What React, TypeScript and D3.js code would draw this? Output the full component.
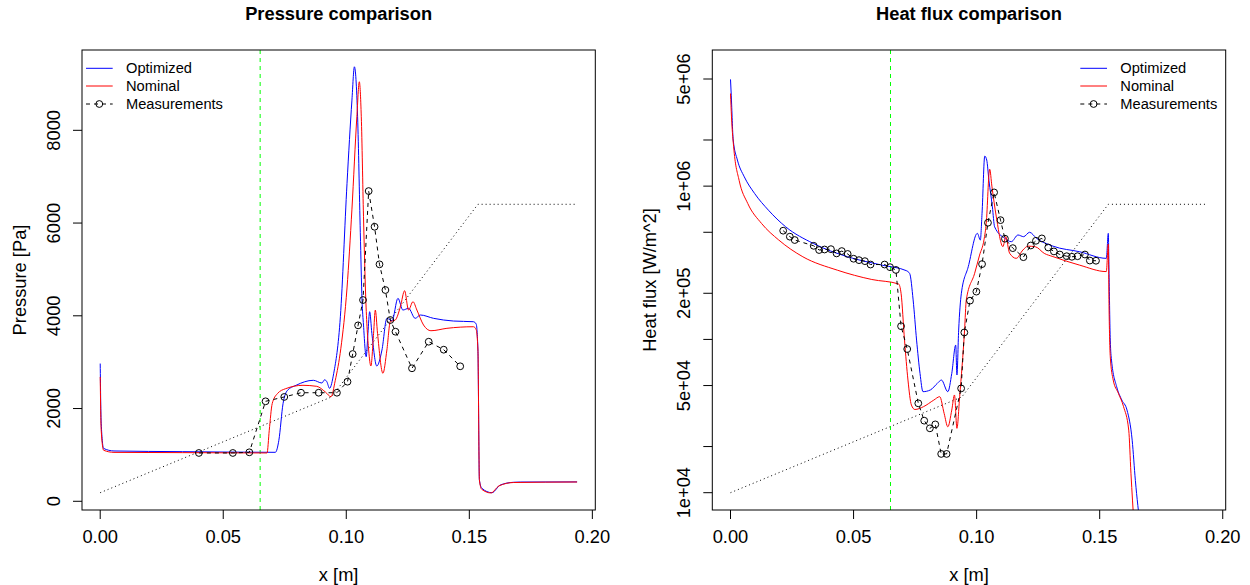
import React from "react"
import * as d3 from "d3"

const W = 1250
const H = 585
const FONT = "'Liberation Sans', Arial, Helvetica, sans-serif"
const BASE = 18.3
const LEGEND_FONT = 14.67

// plot boxes (R base graphics, two panels side by side)
const BOX_TOP = 50
const BOX_BOTTOM = 510
const LEFT_BOX = { x0: 82, x1: 595.3 }
const RIGHT_BOX = { x0: 712.3, x1: 1225.7 }

const X_DOMAIN: [number, number] = [-0.0074, 0.2012]
const X_TICKS = [0, 0.05, 0.1, 0.15, 0.2]
const SHOCK_X = 0.065

const P_DOMAIN: [number, number] = [-188, 9732]
const P_TICKS = [0, 2000, 4000, 6000, 8000]
const P_TICK_LABELS = ["0", "2000", "4000", "6000", "8000"]

const Q_DOMAIN: [number, number] = [7.71e3, 7.73e6]
const Q_TICKS = [1e4, 2e4, 5e4, 1e5, 2e5, 5e5, 1e6, 2e6, 5e6]
const Q_TICK_LABELS = ["1e+04", "", "5e+04", "", "2e+05", "", "1e+06", "", "5e+06"]

const LEGEND_LABELS = ["Optimized", "Nominal", "Measurements"]

// body outline (normalised radius), drawn dotted on both panels
const geomX = [0, 0.094, 0.1535, 0.1938]
const geomR = [0, 0.332, 1, 1]
const GEOM_DOMAIN: [number, number] = [-0.06, 1.535]

type Pt = [number, number]

// pressure [Pa] along x [m]
const pressureOptimized: Pt[] = [
  [0, 2970], [0.0004, 1680], [0.0014, 1140], [0.0056, 1085], [0.0335, 1070],
  [0.0712, 1056], [0.0726, 1315], [0.0743, 2106], [0.0761, 2393], [0.0796, 2501],
  [0.0866, 2609], [0.0901, 2551], [0.0912, 2620], [0.0921, 2579], [0.0932, 2436],
  [0.0949, 2760], [0.0976, 3980], [0.1003, 6856], [0.1023, 8652], [0.1033, 9370],
  [0.1046, 8292], [0.1057, 5800], [0.1064, 4340], [0.107, 3800], [0.1081, 3117],
  [0.1088, 3622], [0.1095, 4088], [0.1104, 3622], [0.1124, 2917], [0.1145, 3262],
  [0.1165, 3945], [0.1186, 3894], [0.121, 4377], [0.123, 4124], [0.1253, 4161],
  [0.128, 3945], [0.1301, 4017], [0.1355, 3945], [0.1436, 3887], [0.1517, 3872],
  [0.1528, 3822], [0.1535, 3262], [0.1541, 459], [0.1551, 280], [0.1592, 185],
  [0.1626, 351], [0.168, 410], [0.1707, 415], [0.1938, 418],
]

const pressureNominal: Pt[] = [
  [0, 2681], [0.0004, 1531], [0.0014, 1100], [0.0056, 1055], [0.0335, 1049],
  [0.0678, 1042], [0.0687, 1531], [0.0699, 2106], [0.072, 2321], [0.0754, 2429],
  [0.0824, 2501], [0.088, 2479], [0.0915, 2357], [0.0938, 2255], [0.0955, 2600],
  [0.0978, 3300], [0.1003, 4600], [0.1023, 6300], [0.1043, 8292], [0.1053, 9047],
  [0.1061, 8292], [0.107, 6136], [0.1079, 4400], [0.1091, 3262], [0.11, 2917],
  [0.1111, 3622], [0.1118, 4124], [0.1127, 3622], [0.1149, 2760], [0.1165, 3262],
  [0.1179, 3872], [0.1199, 3909], [0.122, 4196], [0.1237, 4541], [0.1253, 4124],
  [0.1271, 4304], [0.1287, 4124], [0.1314, 3801], [0.1344, 3678], [0.1409, 3730],
  [0.1517, 3764], [0.1528, 3700], [0.1535, 3262], [0.1541, 459], [0.155, 260],
  [0.1588, 180], [0.162, 330], [0.168, 405], [0.1938, 416],
]

const pressureMeasured: Pt[] = [
  [0.0401, 1042], [0.0539, 1042], [0.0606, 1056], [0.0672, 2156], [0.0748, 2250],
  [0.0816, 2341], [0.0888, 2341], [0.0962, 2341], [0.1005, 2579], [0.1026, 3176],
  [0.1048, 3794], [0.1068, 4340], [0.1091, 6690], [0.1115, 5920], [0.1135, 5110],
  [0.1159, 4556], [0.1179, 3909], [0.12, 3657], [0.1267, 2868], [0.1335, 3441],
  [0.1396, 3269], [0.1463, 2911],
]

// heat flux [W/m^2] along x [m]
const heatOptimized: Pt[] = [
  [0, 4.97e6], [0.0003, 3.92e6], [0.0011, 2.0e6], [0.0028, 1.48e6], [0.0056, 1.15e6],
  [0.0098, 8.95e5], [0.0154, 6.97e5], [0.0224, 5.43e5], [0.0336, 4.23e5], [0.0476, 3.46e5],
  [0.0616, 3.05e5], [0.0714, 2.81e5], [0.0728, 2.69e5], [0.0742, 1.81e5], [0.0756, 9.9e4],
  [0.077, 6.0e4], [0.0782, 4.56e4], [0.0812, 4.68e4], [0.084, 5.16e4], [0.0857, 5.43e4],
  [0.0883, 4.56e4], [0.0899, 6.0e4], [0.0915, 9.18e4], [0.092, 5.86e4], [0.0927, 1.15e5],
  [0.0938, 2.0e5], [0.0966, 2.98e5], [0.1003, 4.92e5], [0.1015, 4.45e5], [0.1022, 6.64e5],
  [0.1033, 1.57e6], [0.1041, 1.48e6], [0.105, 1.09e6], [0.1064, 7.33e5], [0.1073, 5.43e5],
  [0.1114, 4.57e5], [0.1141, 4.34e5], [0.1168, 4.8e5], [0.1191, 4.68e5], [0.1215, 5.0e5],
  [0.1243, 4.57e5], [0.131, 4.06e5], [0.1419, 3.73e5], [0.1527, 3.38e5], [0.1535, 4.92e5],
  [0.1538, 2.69e5], [0.1543, 9.9e4], [0.1548, 7.33e4], [0.1569, 4.91e4], [0.159, 4.02e4],
  [0.1611, 3.46e4], [0.1632, 2.2e4], [0.1645, 1.2e4], [0.1665, 6.0e3],
]

const heatNominal: Pt[] = [
  [0, 4.02e6], [0.0004, 2.83e6], [0.0014, 1.72e6], [0.0035, 1.09e6], [0.007, 7.71e5],
  [0.0126, 5.71e5], [0.0196, 4.45e5], [0.0294, 3.46e5], [0.0434, 2.83e5], [0.0574, 2.46e5],
  [0.0683, 2.3e5], [0.0693, 2.0e5], [0.0707, 9.9e4], [0.0721, 5.43e4], [0.0735, 3.73e4],
  [0.0749, 3.49e4], [0.0784, 3.64e4], [0.0826, 4.02e4], [0.085, 4.23e4], [0.0868, 3.29e4],
  [0.0883, 2.69e4], [0.0899, 3.46e4], [0.091, 4.34e4], [0.092, 2.63e4], [0.0931, 4.23e4],
  [0.0951, 1.15e5], [0.0958, 1.81e5], [0.0992, 2.7e5], [0.1012, 3.55e5], [0.103, 4.47e5],
  [0.1039, 5.71e5], [0.1053, 1.29e6], [0.1062, 1.0e6], [0.108, 6.3e5], [0.1107, 4.03e5],
  [0.1118, 4.68e5], [0.1134, 3.65e5], [0.1161, 3.38e5], [0.1188, 3.83e5], [0.1209, 4.06e5],
  [0.1239, 4.02e5], [0.1275, 3.64e5], [0.131, 3.47e5], [0.1419, 3.05e5], [0.1527, 2.77e5],
  [0.1535, 4.19e5], [0.1538, 1.63e5], [0.1543, 7.71e4], [0.1555, 5.43e4], [0.1576, 4.45e4],
  [0.1597, 3.64e4], [0.1618, 2.56e4], [0.1627, 1.34e4], [0.164, 6.0e3],
]

const heatMeasured: Pt[] = [
  [0.0214, 5.12e5], [0.0241, 4.68e5], [0.0261, 4.45e5], [0.0338, 4.08e5], [0.036, 3.83e5],
  [0.0382, 3.86e5], [0.0408, 3.88e5], [0.0431, 3.64e5], [0.0452, 3.77e5], [0.0476, 3.61e5],
  [0.05, 3.36e5], [0.0522, 3.29e5], [0.0546, 3.24e5], [0.0569, 3.08e5], [0.0626, 3.08e5],
  [0.0648, 2.96e5], [0.0672, 2.84e5], [0.0693, 1.22e5], [0.0718, 8.65e4], [0.0763, 3.83e4],
  [0.0787, 2.95e4], [0.081, 2.63e4], [0.0832, 2.79e4], [0.0856, 1.79e4], [0.0878, 1.79e4],
  [0.0937, 4.79e4], [0.095, 1.11e5], [0.0973, 1.79e5], [0.0999, 2.05e5], [0.1022, 3.1e5],
  [0.1046, 5.77e5], [0.1071, 9.1e5], [0.1097, 6.0e5], [0.1115, 4.54e5], [0.1147, 3.94e5],
  [0.119, 3.44e5], [0.122, 4.1e5], [0.1241, 4.4e5], [0.1265, 4.56e5], [0.1291, 3.98e5],
  [0.1314, 3.75e5], [0.1338, 3.58e5], [0.1366, 3.49e5], [0.1387, 3.46e5], [0.141, 3.49e5],
  [0.144, 3.58e5], [0.146, 3.27e5], [0.1485, 3.26e5],
]

const BLUE = "#0000ff"
const RED = "#ff0000"
const GREEN = "#00ff00"
const R_PCH = 3.4
const TICK = 9
const LEGEND_W = 149.4

type PanelProps = {
  id: string
  box: { x0: number; x1: number }
  title: string
  ylab: string
  y: (v: number) => number
  yTicks: number[]
  yLabels: string[]
  optimized: Pt[]
  nominal: Pt[]
  measured: Pt[]
  legendRight: boolean
}

function Panel({ id, box, title, ylab, y, yTicks, yLabels, optimized, nominal, measured, legendRight }: PanelProps) {
  const x = d3.scaleLinear().domain(X_DOMAIN).range([box.x0, box.x1])
  const g = d3.scaleLinear().domain(GEOM_DOMAIN).range([BOX_BOTTOM, BOX_TOP])
  const smooth = d3.line<Pt>().x(d => x(d[0])).y(d => y(d[1])).curve(d3.curveMonotoneX)
  const straight = d3.line<Pt>().x(d => x(d[0])).y(d => y(d[1]))
  const geom = d3.line<number>().x(i => x(geomX[i])).y(i => g(geomR[i]))
  const cx = (box.x0 + box.x1) / 2
  const cy = (BOX_TOP + BOX_BOTTOM) / 2

  const lx = legendRight ? box.x1 - LEGEND_W : box.x0
  const rows = [BOX_TOP + 18.3, BOX_TOP + 36, BOX_TOP + 54]

  return (
    <g>
      <defs>
        <clipPath id={id}>
          <rect x={box.x0} y={BOX_TOP} width={box.x1 - box.x0} height={BOX_BOTTOM - BOX_TOP} />
        </clipPath>
      </defs>
      <text x={cx} y={20} textAnchor="middle" fontWeight="bold" fontSize={BASE}>
        {title}
      </text>

      <g clipPath={`url(#${id})`} fill="none" strokeWidth={1}>
        <path d={geom(geomX.map((_, i) => i)) ?? ""} stroke="#000" strokeDasharray="1,3" />
        <line x1={x(SHOCK_X)} x2={x(SHOCK_X)} y1={BOX_TOP} y2={BOX_BOTTOM} stroke={GREEN} strokeDasharray="4,4" />
        <path d={smooth(optimized) ?? ""} stroke={BLUE} />
        <path d={smooth(nominal) ?? ""} stroke={RED} />
        <path d={straight(measured) ?? ""} stroke="#000" strokeDasharray="4,4" />
        {measured.map((d, i) => (
          <circle key={i} cx={x(d[0])} cy={y(d[1])} r={R_PCH} stroke="#000" />
        ))}
      </g>

      <rect x={box.x0} y={BOX_TOP} width={box.x1 - box.x0} height={BOX_BOTTOM - BOX_TOP} fill="none" stroke="#000" />

      {/* x axis */}
      <g stroke="#000">
        {X_TICKS.map(t => (
          <line key={t} x1={x(t)} x2={x(t)} y1={BOX_BOTTOM} y2={BOX_BOTTOM + TICK} />
        ))}
        {yTicks.map(t => (
          <line key={t} x1={box.x0 - TICK} x2={box.x0} y1={y(t)} y2={y(t)} />
        ))}
      </g>
      {X_TICKS.map(t => (
        <text key={t} x={x(t)} y={536} textAnchor="middle" dominantBaseline="central" fontSize={BASE}>
          {d3.format(".2f")(t)}
        </text>
      ))}
      {yTicks.map((t, i) =>
        yLabels[i] ? (
          <text
            key={t}
            transform={`translate(${box.x0 - 28.7},${y(t)}) rotate(-90)`}
            textAnchor="middle"
            dominantBaseline="central"
            fontSize={BASE}
          >
            {yLabels[i]}
          </text>
        ) : null,
      )}
      <text x={cx} y={574} textAnchor="middle" dominantBaseline="central" fontSize={BASE}>
        x [m]
      </text>
      <text
        transform={`translate(${box.x0 - 63},${cy}) rotate(-90)`}
        textAnchor="middle"
        dominantBaseline="central"
        fontSize={BASE}
      >
        {ylab}
      </text>

      {/* legend */}
      <g fontSize={LEGEND_FONT}>
        <line x1={lx + 4} x2={lx + 30.7} y1={rows[0]} y2={rows[0]} stroke={BLUE} />
        <line x1={lx + 4} x2={lx + 30.7} y1={rows[1]} y2={rows[1]} stroke={RED} />
        <line x1={lx + 4} x2={lx + 30.7} y1={rows[2]} y2={rows[2]} stroke="#000" strokeDasharray="4,4" />
        <circle cx={lx + 17.3} cy={rows[2]} r={R_PCH} fill="none" stroke="#000" />
        {LEGEND_LABELS.map((l, i) => (
          <text key={l} x={lx + 44} y={rows[i]} dominantBaseline="central">
            {l}
          </text>
        ))}
      </g>
    </g>
  )
}

export default function App() {
  const yP = d3.scaleLinear().domain(P_DOMAIN).range([BOX_BOTTOM, BOX_TOP])
  const yQ = d3.scaleLog().domain(Q_DOMAIN).range([BOX_BOTTOM, BOX_TOP])

  return (
    <svg
      width={W}
      height={H}
      style={{ position: "absolute", left: 0, top: 0, background: "#fff" }}
      fontFamily={FONT}
    >
      <rect width={W} height={H} fill="#fff" />
      <Panel
        id="clip-pressure"
        box={LEFT_BOX}
        title="Pressure comparison"
        ylab="Pressure [Pa]"
        y={yP}
        yTicks={P_TICKS}
        yLabels={P_TICK_LABELS}
        optimized={pressureOptimized}
        nominal={pressureNominal}
        measured={pressureMeasured}
        legendRight={false}
      />
      <Panel
        id="clip-heat"
        box={RIGHT_BOX}
        title="Heat flux comparison"
        ylab="Heat flux [W/m^2]"
        y={yQ}
        yTicks={Q_TICKS}
        yLabels={Q_TICK_LABELS}
        optimized={heatOptimized}
        nominal={heatNominal}
        measured={heatMeasured}
        legendRight={true}
      />
    </svg>
  )
}
